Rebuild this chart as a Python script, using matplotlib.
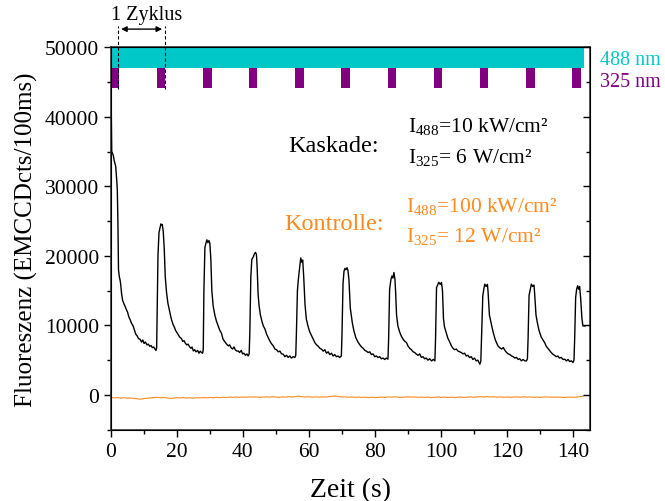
import numpy as np
import matplotlib
matplotlib.use("Agg")
import matplotlib.pyplot as plt
from matplotlib.ticker import MultipleLocator

plt.rcParams["font.family"] = ["Liberation Serif", "DejaVu Serif"]
plt.rcParams["mathtext.fontset"] = "custom"
plt.rcParams["mathtext.rm"] = "Liberation Serif"
plt.rcParams["mathtext.it"] = "Liberation Serif:italic"

CYAN = "#00C8C8"
PURPLE = "#800080"
ORANGE = "#FF8A1F"

# cascade trace (time in s, counts per 100 ms)
KASKADE_T = [
    0.0, 0.15, 0.3, 0.5, 0.8, 1.1, 1.5, 1.8, 2.0, 2.2, 2.35, 2.6, 2.8, 3.0, 3.3, 3.6, 4.0, 4.3, 4.7, 5.1,
    5.5, 5.9, 6.3, 6.8, 7.2, 7.6, 8.0, 8.4, 8.9, 9.3, 9.7, 10.1, 10.5, 11.0, 11.4, 11.8, 12.2, 12.6, 13.0, 13.4,
    13.7, 13.9,
    14.1, 14.3, 14.6, 14.9, 15.2, 15.4, 15.6, 15.9, 16.2, 16.5, 16.9, 17.3, 17.9, 18.3, 18.8, 19.3, 19.6, 20.0,
    20.4, 20.9, 21.4, 21.8, 22.2, 22.5, 23.0, 23.4, 23.9, 24.3, 24.6, 25.0, 25.4, 25.8, 26.3, 26.7, 27.1, 27.5,
    27.8, 28.0,
    28.2, 28.5, 28.8, 29.1, 29.4, 29.7, 30.0, 30.3, 30.6, 31.0, 31.5, 32.0, 32.5, 33.0, 33.5, 34.0, 34.6, 35.1,
    35.6, 36.0, 36.4, 36.9, 37.3, 37.7, 38.2, 38.6, 39.0, 39.5, 39.9, 40.3, 40.8, 41.2, 41.6, 41.9,
    42.1, 42.4, 42.7, 43.1, 43.5, 43.8, 44.1, 44.3, 44.6, 44.9, 45.3, 45.8, 46.2, 46.7, 47.2, 47.6, 48.1, 48.6,
    49.2, 49.7, 50.2, 50.7, 51.2, 51.7, 52.2, 52.7, 53.2, 53.7, 54.2, 54.7, 55.2, 55.7, 56.0,
    56.2, 56.5, 56.8, 57.2, 57.5, 57.8, 58.1, 58.4, 58.8, 59.2, 59.7, 60.2, 60.8, 61.3, 61.8, 62.3, 62.8, 63.3,
    63.8, 64.3, 64.8, 65.3, 65.8, 66.3, 66.8, 67.3, 67.8, 68.3, 68.8, 69.3, 69.8,
    70.0, 70.3, 70.6, 70.9, 71.2, 71.5, 71.8, 72.1, 72.5, 73.1, 73.6, 74.2, 74.9, 75.4, 75.9, 76.4, 76.9, 77.4,
    77.9, 78.4, 78.9, 79.4, 79.9, 80.4, 80.9, 81.4, 81.9, 82.4, 82.9, 83.4, 83.9,
    84.1, 84.4, 84.8, 85.1, 85.4, 85.7, 86.0, 86.2, 86.5, 86.9, 87.4, 88.0, 88.5, 89.0, 89.5, 90.0, 90.5, 91.0,
    91.5, 92.0, 92.5, 93.0, 93.5, 94.0, 94.5, 95.0, 95.5, 96.0, 96.5, 97.1, 97.6, 98.1,
    98.3, 98.6, 99.0, 99.3, 99.7, 100.1, 100.4, 100.7, 101.0, 101.5, 102.0, 102.5, 103.1, 103.6, 104.1, 104.6,
    105.1, 105.6, 106.1, 106.6, 107.1, 107.6, 108.1, 108.6, 109.1, 109.6, 110.1, 110.6, 111.1, 111.7, 112.0,
    112.2, 112.6, 112.9, 113.2, 113.6, 114.0, 114.2, 114.6, 115.3, 115.8, 116.4, 117.2, 117.7, 118.3, 118.8,
    119.3, 119.8, 120.3, 120.8, 121.3, 121.8, 122.3, 122.8, 123.3, 123.8, 124.3, 124.8, 125.3, 125.8, 126.1,
    126.3, 126.6, 127.0, 127.3, 127.7, 128.1, 128.3, 128.7, 129.1, 129.6, 130.3, 131.3, 131.8, 132.3, 132.8,
    133.3, 133.8, 134.3, 134.8, 135.3, 135.8, 136.3, 136.9, 137.4, 137.9, 138.4, 138.9, 139.4, 139.9, 140.2,
    140.4, 140.7, 141.0, 141.3, 141.6, 141.9, 142.2, 142.6, 142.9, 143.6,
]
KASKADE_Y = [
    44000, 41500, 35000, 34800, 34400, 33600, 32900, 31000, 29400, 24000, 18000, 17000, 16600, 16000, 14500,
    13600, 13100, 12800, 12300, 11900, 11200, 10800, 10300, 9900, 9300, 8700, 8500, 8100, 8000, 7600, 7900,
    7400, 7600, 7200, 7300, 7000, 7100, 6800, 6900, 6580, 6400, 6800,
    14000, 20000, 23300, 24000, 24600, 24400, 24500, 23500, 21000, 17000, 14700, 13200, 11900, 11000, 10200,
    9700, 9300, 9000, 8700, 8300, 8100, 7700, 7800, 7500, 7200, 7300, 6900, 6700, 6900, 6330, 6500, 6200,
    6400, 6000, 6300, 6100, 6000, 6500,
    15000, 21200, 21800, 22300, 21900, 22200, 21800, 19500, 15000, 12800, 11500, 10600, 9930, 9300, 8900,
    8000, 7600, 7300, 7050, 7200, 6800, 6600, 6900, 6500, 6300, 6330, 6100, 6400, 5900, 6000, 5700, 5900,
    5610, 5900,
    9000, 17000, 19500, 19800, 20300, 20500, 20200, 18500, 14500, 12800, 11500, 10500, 9900, 9450, 8700,
    8300, 7800, 7400, 7050, 6600, 6500, 6200, 6300, 5900, 5860, 5500, 5700, 5400, 5600, 5300, 5500, 5380,
    5700,
    9000, 15000, 16700, 18500, 19700, 19100, 19400, 17000, 13000, 10900, 9900, 9100, 8490, 8000, 7500, 7200,
    7000, 6700, 6580, 6300, 6500, 6000, 6200, 5800, 6000, 5600, 5800, 5500, 5600, 5380, 5600,
    9000, 16000, 17800, 18200, 18000, 18300, 17900, 16500, 12500, 10420, 9200, 8200, 7540, 7200, 6900, 6700,
    6400, 6300, 6100, 6200, 5800, 5900, 5500, 5600, 5380, 5500, 5200, 5300, 5100, 5300, 5140,
    8000, 15200, 16600, 17100, 16800, 17600, 16700, 15000, 11500, 9930, 9100, 8400, 8000, 7700, 7540, 7000,
    6700, 6500, 6200, 6100, 5860, 5700, 5900, 5400, 5500, 5200, 5300, 5000, 5200, 4890, 5100, 4900,
    8000, 15450, 15900, 16200, 15900, 16170, 15000, 11000, 9800, 8980, 8200, 7700, 7050, 6700, 6500, 6600,
    6300, 6200, 6100, 5900, 6000, 5600, 5700, 5380, 5500, 5100, 5300, 4900, 5000, 4420, 4800,
    8000, 14250, 15200, 15930, 15600, 15900, 14800, 11500, 9930, 8900, 7900, 7050, 6800, 6600, 6820, 6400,
    6100, 5900, 5800, 5610, 5500, 5300, 5400, 5100, 5200, 4900, 5100, 4900, 4890, 5200,
    8000, 14300, 15200, 15930, 15600, 15800, 14500, 11500, 10420, 9300, 8300, 7540, 7000, 6700, 6400, 6100,
    5860, 5700, 5500, 5600, 5300, 5400, 5100, 5140, 4900, 5100, 4800, 4900, 4660, 5000,
    8000, 14000, 15200, 15690, 15200, 15600, 14000, 11000, 9930, 9930,
]

# control trace, one value per second from t = 0 s
KONTROLLE_Y = [
    -350, -420, -380, -450, -400, -470, -430, -500, -560, -620, -520, -480, -430, -380, -330, -400, -360,
    -420, -500, -450, -400, -430, -380, -450, -410, -470, -400, -430, -380, -410, -360, -420, -340, -390,
    -330, -370, -310, -350, -290, -340, -300, -330, -260, -320, -280, -340, -300, -270, -320, -250, -300,
    -350, -280, -310, -240, -290, -220, -180, -260, -300, -250, -320, -280, -330, -270, -310, -250, -200,
    -150, -240, -300, -270, -330, -290, -350, -300, -360, -320, -380, -330, -390, -340, -300, -350, -280,
    -320, -260, -310, -370, -300, -260, -320, -290, -340, -300, -360, -310, -380, -330, -290, -350, -300,
    -370, -320, -380, -340, -300, -360, -310, -280, -330, -270, -250, -290, -230, -300, -260, -320, -280,
    -340, -290, -350, -300, -280, -330, -260, -310, -290, -340, -300, -360, -310, -280, -330, -300, -350,
    -310, -360, -320, -300, -340, -310, -250, -180,
]
KONTROLLE_T = np.arange(len(KONTROLLE_Y), dtype=float)

# excitation scheme
LASER488_SPAN = (0.0, 143.1)
LASER488_Y = (47000, 50000)
UV325_STARTS = [0.0, 13.9, 28.0, 41.9, 55.9, 69.8, 83.9, 97.9, 111.7, 125.8, 139.7]
UV325_WIDTH = 2.5
UV325_Y = (44100, 47000)
CYCLE = (2.3, 16.4)

fig = plt.figure(figsize=(6.65, 5.02), dpi=100)
ax = fig.add_axes([0.1665, 0.142, 0.7205, 0.762])

ax.plot(KONTROLLE_T, KONTROLLE_Y, color=ORANGE, lw=0.8)
ax.plot(KASKADE_T, KASKADE_Y, color="black", lw=1.0)

ax.fill_between(LASER488_SPAN, LASER488_Y[0], LASER488_Y[1], color=CYAN, lw=0, zorder=3)
for s in UV325_STARTS:
    ax.fill_between([s, s + UV325_WIDTH], UV325_Y[0], UV325_Y[1], color=PURPLE, lw=0, zorder=3)

ax.set_xlim(0, 145)
ax.set_ylim(-5000, 50000)
ax.xaxis.set_major_locator(MultipleLocator(20))
ax.xaxis.set_minor_locator(MultipleLocator(10))
ax.yaxis.set_major_locator(MultipleLocator(10000))
ax.yaxis.set_minor_locator(MultipleLocator(5000))
ax.tick_params(which="both", direction="out", top=False, right=False, labelsize=15.5, width=1.0)
ax.tick_params(which="major", length=5)
ax.tick_params(which="minor", length=3)
for sp in ax.spines.values():
    sp.set_linewidth(1.2)
    sp.set_color("#333333")

# mirrored ticks on the right, pointing inwards
rax = ax.twinx()
rax.set_ylim(ax.get_ylim())
rax.yaxis.set_major_locator(MultipleLocator(10000))
rax.yaxis.set_minor_locator(MultipleLocator(5000))
rax.tick_params(which="both", direction="in", labelright=False, width=1.0)
rax.tick_params(which="major", length=5)
rax.tick_params(which="minor", length=3)

ax.set_xlabel("Zeit (s)", fontsize=20, labelpad=12)
ax.set_ylabel("Fluoreszenz (EMCCDcts/100ms)", fontsize=18, labelpad=5)

# cycle marker
for x in CYCLE:
    ax.plot([x, x], [44000, 53000], color="black", lw=0.8, ls=(0, (3, 2)), clip_on=False, zorder=4)
ax.annotate("", xy=(CYCLE[0], 52600), xytext=(CYCLE[1], 52600),
            arrowprops=dict(arrowstyle="<|-|>", color="black", lw=1.0, mutation_scale=8),
            annotation_clip=False)
ax.text(0, 54700, "1 Zyklus", fontsize=14.5, ha="left", va="center")

ax.text(148, 48300, "488 nm", color=CYAN, fontsize=14.5, ha="left", va="center", clip_on=False)
ax.text(148, 45000, "325 nm", color=PURPLE, fontsize=14.5, ha="left", va="center", clip_on=False)

ax.text(53.6, 35800, "Kaskade:", fontsize=17.5, ha="left", va="center")
ax.text(90, 38800, r"I$_\mathrm{488}$=10 kW/cm²", fontsize=15.5, ha="left", va="center")
ax.text(90, 34300, r"I$_\mathrm{325}$= 6 W/cm²", fontsize=15.5, ha="left", va="center")

ax.text(52.5, 24700, "Kontrolle:", fontsize=17.5, ha="left", va="center", color=ORANGE)
ax.text(89.5, 27300, r"I$_\mathrm{488}$=100 kW/cm²", fontsize=15.5, ha="left", va="center", color=ORANGE)
ax.text(89.5, 22900, r"I$_\mathrm{325}$= 12 W/cm²", fontsize=15.5, ha="left", va="center", color=ORANGE)

fig.savefig("out.png", dpi=100)
